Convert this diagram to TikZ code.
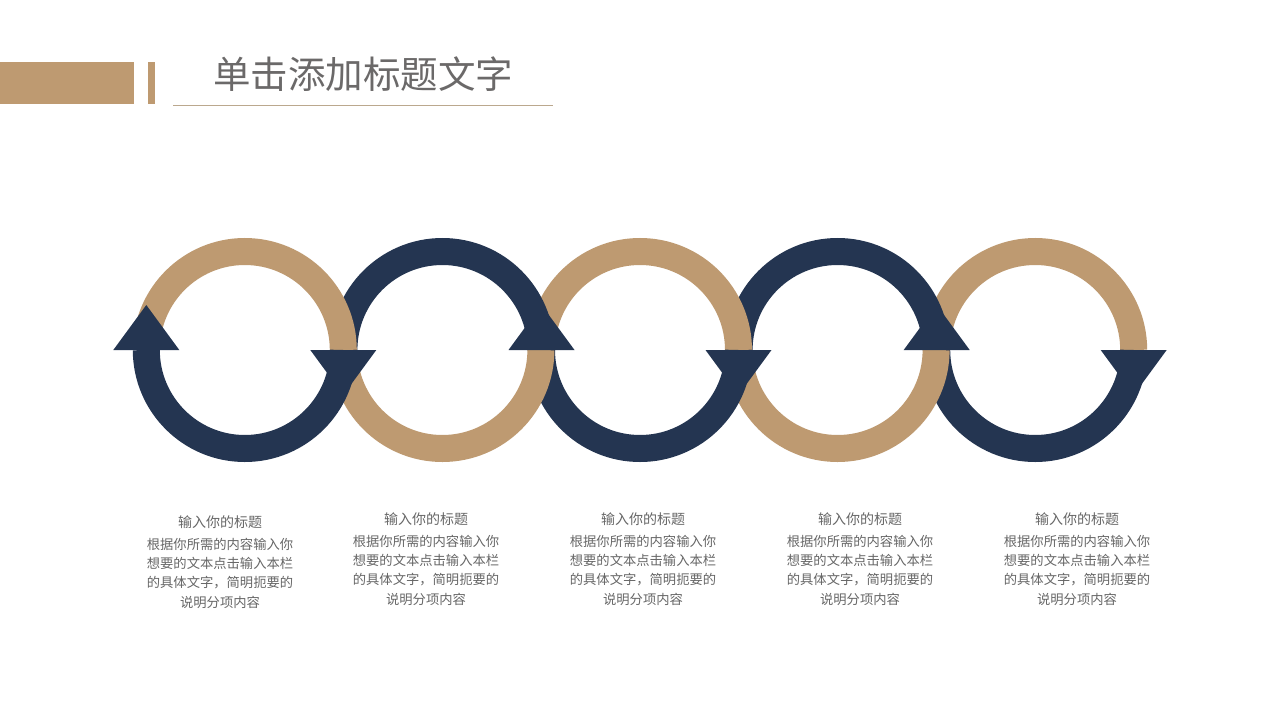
\documentclass[tikz,border=0pt]{standalone}
\usepackage{fontspec}
\usepackage{tikz}
\usetikzlibrary{positioning}
\newfontfamily\cjk{Noto Sans CJK SC}
\definecolor{ringtan}{HTML}{BE9A71}
\definecolor{ringnavy}{HTML}{243551}
\definecolor{titlegray}{HTML}{6B6969}
\definecolor{capgray}{HTML}{666666}
\definecolor{rulegray}{HTML}{BBA88E}

\begin{document}
\begin{tikzpicture}
			[x=1pt, y=1pt,
			tanarc/.style = {draw=ringtan, line width=27pt},
			navyarc/.style = {draw=ringnavy, line width=27pt},
			head/.style = {fill=ringnavy},
			caption/.style = {font=\cjk\fontsize{14}{17}\selectfont, text=capgray, inner sep=0pt},
			blurb/.style = {font=\cjk\fontsize{13.3}{19.3}\selectfont, text=capgray, align=center, inner sep=0pt}]
			\fill[white] (0,0) rectangle (1280,-720);
			\useasboundingbox (0,0) rectangle (1280,-720);
			% header
			\fill[ringtan] (0,-62) rectangle (134,-104);
			\fill[ringtan] (148,-62) rectangle (155,-104);
			\node (title) [anchor=west, inner sep=0pt, text=titlegray, font=\cjk\fontsize{37.5}{40}\selectfont] at (213,-74) {单击添加标题文字};
			\draw[rulegray, line width=1pt] (173,-105) -- (553,-105);
			% ring centres
			\coordinate (c1) at (244.8,-350);
			\coordinate (c2) at (442.4,-350);
			\coordinate (c3) at (640,-350);
			\coordinate (c4) at (837.6,-350);
			\coordinate (c5) at (1035.2,-350);
			% rings, last one first
			\draw[tanarc] (c5) ++(98.5,0) arc[start angle=0, end angle=180, radius=98.5];
			\draw[navyarc] (c5) ++(98.5,0) arc[start angle=0, end angle=-180, radius=98.5];
			\draw[navyarc] (c4) ++(98.5,0) arc[start angle=0, end angle=180, radius=98.5];
			\draw[tanarc] (c4) ++(98.5,0) arc[start angle=0, end angle=-180, radius=98.5];
			\draw[tanarc] (c3) ++(98.5,0) arc[start angle=0, end angle=180, radius=98.5];
			\draw[navyarc] (c3) ++(98.5,0) arc[start angle=0, end angle=-180, radius=98.5];
			\draw[navyarc] (c2) ++(98.5,0) arc[start angle=0, end angle=180, radius=98.5];
			\draw[tanarc] (c2) ++(98.5,0) arc[start angle=0, end angle=-180, radius=98.5];
			\draw[tanarc] (c1) ++(98.5,0) arc[start angle=0, end angle=180, radius=98.5];
			\draw[navyarc] (c1) ++(98.5,0) arc[start angle=0, end angle=-180, radius=98.5];
			% arrow heads
			\fill[head] (c1) ++(-131.5,0) -- ++(66,0) -- ++(-33,45) -- cycle;
			\fill[head] (c1) ++(65.5,0) -- ++(66,0) -- ++(-33,-45) -- cycle;
			\fill[head] (c3) ++(-131.5,0) -- ++(66,0) -- ++(-33,45) -- cycle;
			\fill[head] (c3) ++(65.5,0) -- ++(66,0) -- ++(-33,-45) -- cycle;
			\fill[head] (c5) ++(-131.5,0) -- ++(66,0) -- ++(-33,45) -- cycle;
			\fill[head] (c5) ++(65.5,0) -- ++(66,0) -- ++(-33,-45) -- cycle;
			% captions
			\node[caption] (cap1) at (220,-522) {输入你的标题};
			\node[blurb] (txt1) [below=9pt of cap1] {根据你所需的内容输入你\\想要的文本点击输入本栏\\的具体文字，简明扼要的\\说明分项内容};
			\node[caption] (cap2) at (426,-519) {输入你的标题};
			\node[blurb] (txt2) [below=9pt of cap2] {根据你所需的内容输入你\\想要的文本点击输入本栏\\的具体文字，简明扼要的\\说明分项内容};
			\node[caption] (cap3) at (643,-519) {输入你的标题};
			\node[blurb] (txt3) [below=9pt of cap3] {根据你所需的内容输入你\\想要的文本点击输入本栏\\的具体文字，简明扼要的\\说明分项内容};
			\node[caption] (cap4) at (860,-519) {输入你的标题};
			\node[blurb] (txt4) [below=9pt of cap4] {根据你所需的内容输入你\\想要的文本点击输入本栏\\的具体文字，简明扼要的\\说明分项内容};
			\node[caption] (cap5) at (1077,-519) {输入你的标题};
			\node[blurb] (txt5) [below=9pt of cap5] {根据你所需的内容输入你\\想要的文本点击输入本栏\\的具体文字，简明扼要的\\说明分项内容};
		\end{tikzpicture}
\end{document}
